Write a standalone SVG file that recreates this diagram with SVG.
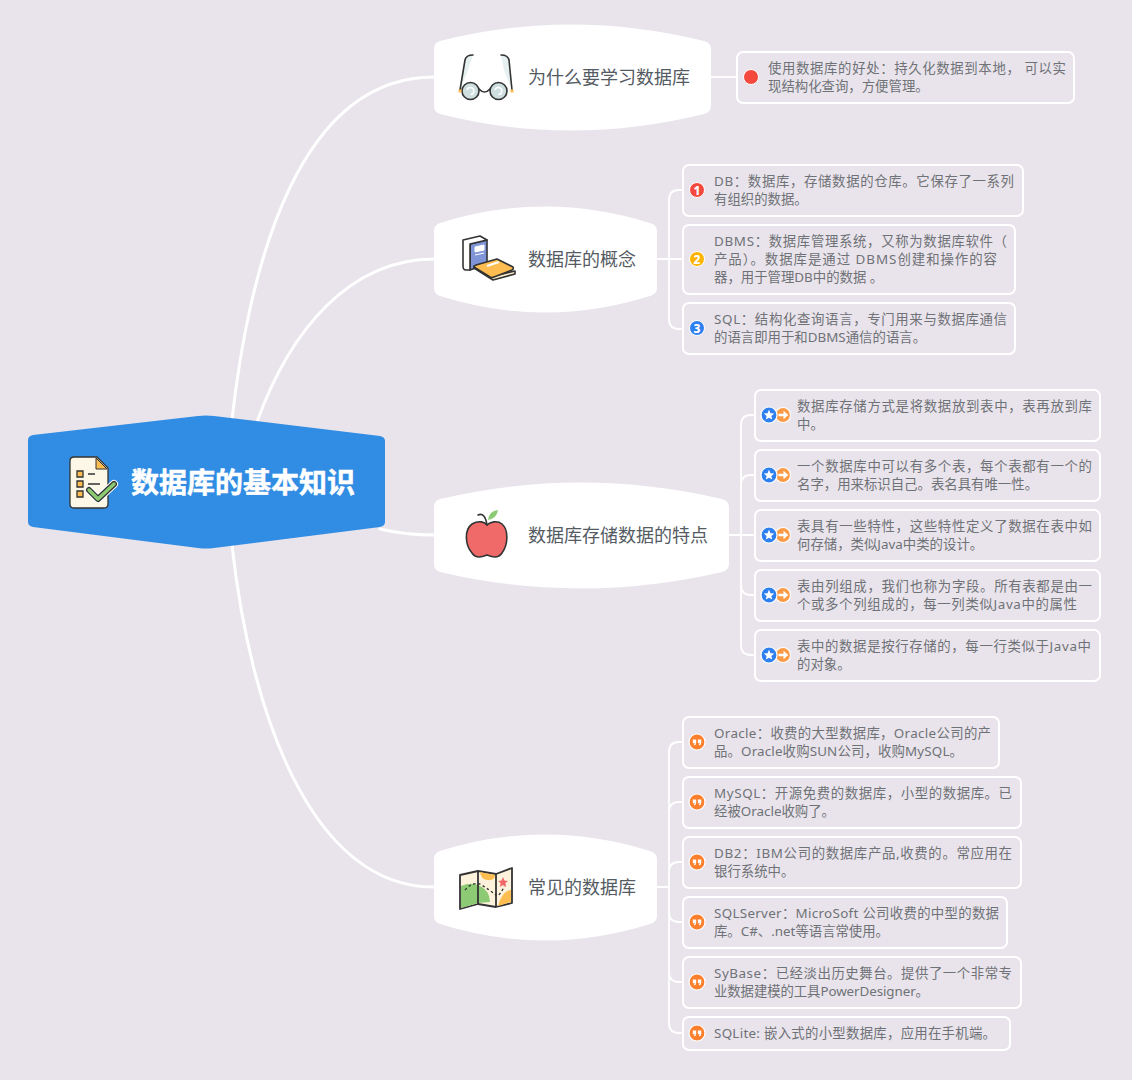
<svg xmlns="http://www.w3.org/2000/svg" width="1132" height="1080" viewBox="0 0 1132 1080">
<style>
text{font-family:"Noto Sans","Noto Sans CJK SC",sans-serif}
.t{font-size:18px;fill:#555b63;font-family:"Noto Sans CJK SC",sans-serif}
.l{font-size:13.4px;fill:#6f7276;transform:translateY(.8px)}
.b{fill:#e9e4ec;stroke:#fff;stroke-width:2}
.c{fill:none;stroke:#fff;stroke-width:3;stroke-linecap:round}
.s{fill:none;stroke:#fff;stroke-width:1.8}
.k{stroke:#333;stroke-width:1.6;stroke-linejoin:round;stroke-linecap:round}
.w{fill:#fff}
.n{font-size:12px;font-weight:800;fill:#fff;text-anchor:middle}
</style>
<defs>
<g id="q"><circle r="8" fill="#fd7e2b" stroke="#fff" stroke-width="1.2"/><path d="M-4.2-2.5h3.4v3.2q0 2-2 2.8l-.5-.9q1-.5 1.1-1.3h-2zM.9-2.5h3.4v3.2q0 2-2 2.8l-.5-.9q1-.5 1.1-1.3h-2z" fill="#fff"/></g>
<g id="sa"><circle cx="14" r="7.5" fill="#fb9a45" stroke="#fff" stroke-width="1.2"/><path d="M9.5-1.3h5v-3l4.8 4.300-4.800 4.300v-3h-5z" fill="#fff"/><circle r="8" fill="#2e7ff0" stroke="#fff" stroke-width="1.2"/><path d="M0-5.200 1.500-1.800 5.200-1.500 2.400 1 3.200 4.600 0 2.700-3.200 4.600-2.400 1-5.200-1.500-1.500-1.800z" fill="#fff"/></g>
</defs>
<rect width="1132" height="1080" fill="#e9e4ec"/>
<g id="connectors">
<path class="c" d="M232 420C250 260 300 77 434 77"/>
<path class="c" d="M257 422C290 330 350 259 434 259"/>
<path class="c" d="M380 529Q405 535 434 535"/>
<path class="c" d="M232 545C250 710 310 887 434 887"/>
<path class="s" d="M711 77H737"/>
<path class="s" d="M657 259H669M683 190H679Q669 190 669 200V319Q669 329 679 329H683M669 259H683"/>
<path class="s" d="M729 535H741M755 415H751Q741 415 741 425V645Q741 655 751 655H755M755 475H751Q741 475 741 485M755 535H741M755 595H751Q741 595 741 585"/>
<path class="s" d="M657 887H669M683 742H679Q669 742 669 752V1023Q669 1033 679 1033H683M683 802H679Q669 802 669 812M683 862H679Q669 862 669 872M683 922H679Q669 922 669 912M683 982H679Q669 982 669 972"/>
</g>
<g id="root">
<path fill="#318ce3" d="M33 435 198 416Q206 415 214 416L380 436Q385 437 385 441V522Q385 526 380 527L214 548Q206 549 198 548L33 527Q28 526 28 522V440Q28 436 33 435Z"/>
<path d="M74 457H97L108 468V504Q108 508 104 508H74Q70 508 70 504V461Q70 457 74 457Z" fill="#fdf7e8" stroke="#333" stroke-width="1.300"/>
<path d="M96 458V469H107Z" fill="#fdbd51" stroke="#333"/>
<path d="M77 471h6v6h-6zM77 481h6v6h-6zM77 491h6v6h-6z" fill="#fdbd51" stroke="#333" stroke-width="1.300"/>
<path d="M88 474h7M88 484h12" stroke="#333" stroke-width="1.300"/>
<path d="M89 490 98 499 114 484" fill="none" stroke="#fff" stroke-width="8" stroke-linecap="round" stroke-linejoin="round"/>
<path d="M89 490 98 499 114 484" fill="none" stroke="#333" stroke-width="6" stroke-linecap="round" stroke-linejoin="round"/>
<path d="M89 490 98 499 114 484" fill="none" stroke="#8ccb74" stroke-width="3.500" stroke-linecap="round" stroke-linejoin="round"/>
<text x="131" y="493" font-size="28" font-weight="700" fill="#fff" stroke="#fff" stroke-width=".5" style="font-family:'Noto Sans CJK SC',sans-serif" textLength="224" lengthAdjust="spacingAndGlyphs">数据库的基本知识</text>
</g>
<g id="topic1">
<path class="w" d="M440 41Q570 8 704 41Q711 43 711 49V106Q711 112 704 114Q570 147 440 114Q434 112 434 106V49Q434 43 440 41Z"/>
<path d="M473 55Q466 55 465 60L460 90 468 70ZM501 55Q508 55 509 60L512 90 504 70Z" fill="#e6f0f0"/>
<path d="M473 55Q466 55 465 60L460 90M501 55Q508 55 509 60L512 90" fill="none" class="k"/>
<circle cx="470.500" cy="91" r="8.500" fill="#cfdfe0" class="k"/><circle cx="498.500" cy="91" r="8.500" fill="#cfdfe0" class="k"/>
<path d="M479 89Q484.500 95 490 89" fill="none" class="k"/>
<path d="M467 90a3.500 3.500 0 1 1 3.500 4.500M495 90a3.500 3.500 0 1 1 3.500 4.500" fill="none" stroke="#fff" stroke-width="1.500"/>
<rect x="458.500" y="89.500" width="3" height="3" fill="#fdbd51"/><rect x="510.500" y="89.500" width="3" height="3" fill="#fdbd51"/>
<text class="t" x="528" y="84">为什么要学习数据库</text>
</g>
<g id="leaf1">
<rect class="b" x="737" y="52" width="337" height="51" rx="6"/>
<circle cx="751" cy="77" r="7.500" fill="#f44a3e" stroke="#fff"/>
<text class="l" x="768" y="72" textLength="298">使用数据库的好处：持久化数据到本地， 可以实</text>
<text class="l" x="768" y="90">现结构化查询，方便管理。</text>
</g>
<g id="topic2">
<path class="w" d="M440 223Q545 190 650 223Q657 225 657 231V288Q657 294 650 296Q545 329 440 296Q434 294 434 288V231Q434 225 440 223Z"/>
<path d="M470 244 487 240V264L470 270Z" fill="#7f95d8" class="k"/>
<path d="M463 240 480 236 487 240 470 244V270H466Q463 270 463 266Z" fill="#fff" class="k"/>
<path d="M475 247 484 245V250L475 252ZM475 255 484 253" fill="#fff" stroke="#fff"/>
<path d="M474 268 493 280 515 274V271L494 276 474 266Z" fill="#fdeecb" class="k"/>
<path d="M474 267Q474 266 476 265L497 259 513 267Q514 269 512 270L494 277Q492 278 490 277Z" fill="#fdbd51" class="k"/>
<path d="M487 266 499 262" stroke="#fff" stroke-width="2"/>
<text class="t" x="528" y="266">数据库的概念</text>
</g>
<g id="leaf2a">
<rect class="b" x="683" y="165" width="340" height="51" rx="6"/>
<circle cx="697" cy="190" r="7.500" fill="#f44a3e" stroke="#fff"/><text class="n" x="697" y="194.500">1</text>
<text class="l" x="714" y="185" textLength="300">DB：数据库，存储数据的仓库。它保存了一系列</text>
<text class="l" x="714" y="203">有组织的数据。</text>
</g>
<g id="leaf2b">
<rect class="b" x="683" y="225" width="332" height="69" rx="6"/>
<circle cx="697" cy="259" r="7.500" fill="#fcb400" stroke="#fff"/><text class="n" x="697" y="263.500">2</text>
<text class="l" x="714" y="245" textLength="293">DBMS：数据库管理系统，又称为数据库软件（</text>
<text class="l" x="714" y="263" textLength="283">产品）。数据库是通过 DBMS创建和操作的容</text>
<text class="l" x="714" y="281">器，用于管理DB中的数据 。</text>
</g>
<g id="leaf2c">
<rect class="b" x="683" y="303" width="332" height="51" rx="6"/>
<circle cx="697" cy="328" r="7.500" fill="#2e7ff0" stroke="#fff"/><text class="n" x="697" y="332.500">3</text>
<text class="l" x="714" y="323" textLength="293">SQL：结构化查询语言，专门用来与数据库通信</text>
<text class="l" x="714" y="341">的语言即用于和DBMS通信的语言。</text>
</g>
<g id="topic3">
<path class="w" d="M440 499Q580 466 722 499Q729 501 729 507V564Q729 570 722 572Q580 605 440 572Q434 570 434 564V507Q434 501 440 499Z"/>
<path d="M472 524C479 520 485 522 487 525 490 522 497 520 502 524 509 530 508 545 502 553 498 559 492 557 487 555 482 557 476 559 472 553 465 545 464 530 472 524Z" fill="#f06a6a" class="k"/>
<path d="M478 515Q485 512 487 525" fill="none" class="k"/>
<path d="M488 520Q489 511 498 510Q497 518 488 520Z" fill="#8ccb74"/>
<text class="t" x="528" y="542">数据库存储数据的特点</text>
</g>
<g id="leaf3a">
<rect class="b" x="755" y="390" width="345" height="51" rx="6"/>
<use href="#sa" x="769" y="415"/>
<text class="l" x="797" y="410" textLength="295">数据库存储方式是将数据放到表中，表再放到库</text>
<text class="l" x="797" y="428">中。</text>
</g>
<g id="leaf3b">
<rect class="b" x="755" y="450" width="345" height="51" rx="6"/>
<use href="#sa" x="769" y="475"/>
<text class="l" x="797" y="470" textLength="295">一个数据库中可以有多个表，每个表都有一个的</text>
<text class="l" x="797" y="488">名字，用来标识自己。表名具有唯一性。</text>
</g>
<g id="leaf3c">
<rect class="b" x="755" y="510" width="345" height="51" rx="6"/>
<use href="#sa" x="769" y="535"/>
<text class="l" x="797" y="530" textLength="295">表具有一些特性，这些特性定义了数据在表中如</text>
<text class="l" x="797" y="548">何存储，类似Java中类的设计。</text>
</g>
<g id="leaf3d">
<rect class="b" x="755" y="570" width="345" height="51" rx="6"/>
<use href="#sa" x="769" y="595"/>
<text class="l" x="797" y="590" textLength="295">表由列组成，我们也称为字段。所有表都是由一</text>
<text class="l" x="797" y="608" textLength="280">个或多个列组成的，每一列类似Java中的属性</text>
</g>
<g id="leaf3e">
<rect class="b" x="755" y="630" width="345" height="51" rx="6"/>
<use href="#sa" x="769" y="655"/>
<text class="l" x="797" y="650" textLength="294">表中的数据是按行存储的，每一行类似于Java中</text>
<text class="l" x="797" y="668">的对象。</text>
</g>
<g id="topic4">
<path class="w" d="M440 851Q545 818 650 851Q657 853 657 859V916Q657 922 650 924Q545 957 440 924Q434 922 434 916V859Q434 853 440 851Z"/>
<path d="M460 875 478 871 496 874 512 868V903L496 907 478 904 460 909Z" fill="#fdf3dc" stroke="#333" stroke-width="1.800" stroke-linejoin="round"/>
<path d="M461 886Q470 882 478 885Q490 890 490 902L478 903 461 908Z" fill="#8ccb74"/>
<path d="M480 872 495 875Q495 881 487 880 481 879 480 872ZM500 900Q505 890 511 890V902L498 906Z" fill="#fdbd51"/>
<path d="M478 871V904M496 874V907" stroke="#333" stroke-width="1.800"/>
<path d="M465 890Q472 882 480 884 490 890 497 896 502 893 504 886" fill="none" stroke="#333" stroke-width="1.300" stroke-dasharray="2.500 2.500"/>
<path d="M503 877 504.500 880.500 508 881 505.500 883 506 887 503 885 500 887 500.500 883 498 881 501.500 880.500z" fill="#f06a6a"/>
<text class="t" x="528" y="894">常见的数据库</text>
</g>
<g id="leaf4a">
<rect class="b" x="683" y="717" width="316" height="51" rx="6"/>
<use href="#q" x="697" y="742"/>
<text class="l" x="714" y="737" textLength="277">Oracle：收费的大型数据库，Oracle公司的产</text>
<text class="l" x="714" y="755" textLength="249">品。Oracle收购SUN公司，收购MySQL。</text>
</g>
<g id="leaf4b">
<rect class="b" x="683" y="777" width="338" height="51" rx="6"/>
<use href="#q" x="697" y="802"/>
<text class="l" x="714" y="797" textLength="298">MySQL：开源免费的数据库，小型的数据库。已</text>
<text class="l" x="714" y="815">经被Oracle收购了。</text>
</g>
<g id="leaf4c">
<rect class="b" x="683" y="837" width="338" height="51" rx="6"/>
<use href="#q" x="697" y="862"/>
<text class="l" x="714" y="857" textLength="298">DB2：IBM公司的数据库产品,收费的。常应用在</text>
<text class="l" x="714" y="875">银行系统中。</text>
</g>
<g id="leaf4d">
<rect class="b" x="683" y="897" width="324" height="51" rx="6"/>
<use href="#q" x="697" y="922"/>
<text class="l" x="714" y="917" textLength="285">SQLServer：MicroSoft 公司收费的中型的数据</text>
<text class="l" x="714" y="935" textLength="175">库。C#、.net等语言常使用。</text>
</g>
<g id="leaf4e">
<rect class="b" x="683" y="957" width="338" height="51" rx="6"/>
<use href="#q" x="697" y="982"/>
<text class="l" x="714" y="977" textLength="298">SyBase：已经淡出历史舞台。提供了一个非常专</text>
<text class="l" x="714" y="995" textLength="215">业数据建模的工具PowerDesigner。</text>
</g>
<g id="leaf4f">
<rect class="b" x="683" y="1017" width="327" height="33" rx="6"/>
<use href="#q" x="697" y="1033"/>
<text class="l" x="714" y="1037.500" textLength="282">SQLite: 嵌入式的小型数据库，应用在手机端。</text>
</g>
</svg>
